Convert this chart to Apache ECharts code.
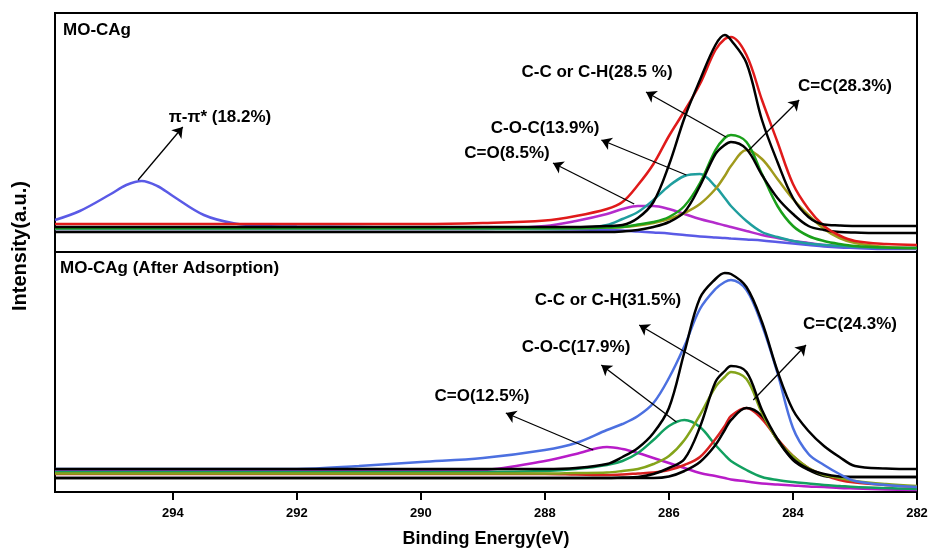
<!DOCTYPE html>
<html>
<head>
<meta charset="utf-8">
<title>C1s XPS MO-CAg</title>
<script src="https://cdn.jsdelivr.net/npm/echarts@6/dist/echarts.min.js"></script>
<style>
  html, body { margin: 0; padding: 0; background: #fff; }
  #main { width: 932px; height: 554px; }
</style>
</head>
<body>
<div id="main"></div>
<script>
// binding energy grid (eV), shared by both panels
var energy = [295.9, 295.5, 295, 294.75, 294.5, 294.25, 294, 293.5, 293, 292.5, 292, 291, 290, 289, 288, 287.5, 287,
  286.75, 286.5, 286.25, 286, 285.75, 285.5, 285.25, 285.1, 285, 284.75, 284.5, 284.25, 284, 283.75, 283.5, 283.25, 283, 282.5, 282];
var xTicks = [294, 292, 290, 288, 286, 284, 282];

// MO-CAg (top panel)
var topPi   = [32, 41, 58, 67, 71, 66, 56, 37, 28.5, 26, 25.5, 25, 24, 23.5, 23, 22.5, 22,
  21.5, 20.5, 19.5, 18.5, 17, 15.5, 14.5, 14, 13.5, 12.5, 11.5, 10, 8.5, 7, 5.5, 4.5, 4, 3, 3];
var topCO   = [23, 23, 23, 23, 23, 23, 23, 23, 23, 23, 23, 23, 23, 23, 26, 31, 38,
  43, 46, 46, 43, 38, 33, 29, 26.5, 25, 21, 17, 14, 11, 9, 7, 6, 5, 4, 4];
var topCOC  = [23, 23, 23, 23, 23, 23, 23, 23, 23, 23, 23, 23, 23, 23, 23, 23.5, 27,
  33, 40, 52, 66, 76, 78, 65.5, 54, 46, 31, 20, 15, 11, 8.5, 7, 6, 5, 4, 4];
var topCC   = [24, 24, 24, 24, 24, 24, 24, 24, 24, 24, 24, 24, 24, 24, 24, 24, 24.5,
  25, 27.5, 30, 35, 46, 69, 102, 114, 117, 110, 78, 46, 26, 16, 11, 8, 6, 4.5, 4];
var topCeqC = [24, 24, 24, 24, 24, 24, 24, 24, 24, 24, 24, 24, 24, 24, 24, 24, 24.5,
  25, 26.5, 29, 33, 39, 48, 63, 76, 86, 102, 93, 73, 53, 37, 23, 14, 9, 5, 4];
var topRaw  = [28, 28, 28, 28, 28, 28, 28, 28, 28, 28, 28, 28, 28, 29, 31.5, 36, 43,
  50, 67, 88, 116, 141, 168, 202, 213, 215, 197, 152, 110, 68, 43, 26, 16.5, 11, 8, 7];
var topFit  = [25, 25, 25, 25, 25, 25, 25, 25, 25, 25, 25, 25, 25, 25, 25, 25, 26,
  27, 34, 50, 87, 134, 172, 207, 217, 212, 189, 132, 90, 54, 35, 27.5, 26.5, 26, 26, 26];
var topBlk  = [20, 20, 20, 20, 20, 20, 20, 20, 20, 20, 20, 20, 20, 20, 20, 20, 20,
  20.5, 22, 25, 30, 40, 66, 98, 107, 110, 103, 77, 54, 38, 26, 22, 20, 19.5, 19, 19];

// MO-CAg after adsorption (bottom panel)
var botCO   = [21, 21, 21, 21, 21, 21, 21, 21, 21, 21, 21, 21, 21, 22, 31, 38, 45,
  43, 39, 34, 29, 24, 19, 16, 14, 12.5, 10.5, 8.5, 7.5, 6.5, 5.5, 5, 4, 3.5, 2.5, 2];
var botCOC  = [20, 20, 20, 20, 20, 20, 20, 20, 20, 20, 20, 20, 20, 20, 21, 23, 27,
  31, 39, 52, 66, 72, 65, 47, 37, 31, 22, 15, 12, 10, 8.5, 7, 6, 5, 4, 3];
var botCC   = [18.5, 18.5, 18.5, 18.5, 18.5, 18.5, 18.5, 18.5, 18.5, 18.5, 18.5, 18.5, 18.5, 18.5, 18.5, 19, 19.5,
  21, 23, 28, 36, 52, 77, 105, 115, 120, 113, 79, 52, 36, 24, 17, 14, 11, 8, 6];
var botCeqC = [18, 18, 18, 18, 18, 18, 18, 18, 18, 18, 18, 18, 18, 18, 18, 17.5, 17,
  17.5, 18.5, 19.5, 22, 27, 35, 53, 66, 76, 84, 73, 53, 36, 24, 17, 12, 9.5, 7, 5];
var botRaw  = [23, 23, 23, 23, 23, 23, 23, 23, 23, 23, 23, 26, 30, 34, 42, 49, 62,
  68, 76, 89, 114, 146, 183, 203, 210, 212, 202, 167, 119, 64, 38, 27, 18, 11, 7, 5];
var botFit  = [23, 23, 23, 23, 23, 23, 23, 23, 23, 23, 23, 23, 23, 23, 23, 24, 28,
  35, 44, 59, 84, 140, 194, 213, 219, 218, 205, 170, 121, 82, 61, 46, 35, 26, 23.5, 23];
var botBlk1 = [14, 14, 14, 14, 14, 14, 14, 14, 14, 14, 14, 14, 14, 14, 14, 14, 14,
  14.5, 15, 18, 24, 33, 65, 110, 121, 126, 120, 82, 53, 33, 23, 18, 15.5, 15, 15, 15];
var botBlk2 = [14, 14, 14, 14, 14, 14, 14, 14, 14, 14, 14, 14, 14, 14, 14, 14, 14,
  14, 14, 14, 15.5, 21, 30, 47, 62, 72, 84, 76, 52, 32, 22, 16, 15, 15, 15, 15];

// annotation arrows [from, to] in (eV, intensity)
var topArrows = [
  [[294.56, 72], [293.84, 125]],
  [[285.08, 115], [286.37, 160]],
  [[284.71, 102], [283.90, 152]],
  [[285.72, 77], [287.09, 112]],
  [[286.56, 48], [287.87, 89]]
];
var botArrows = [
  [[285.19, 120], [286.48, 167]],
  [[284.64, 92], [283.79, 147]],
  [[285.88, 70], [287.09, 127]],
  [[287.22, 42], [288.63, 79]]
];

var font = '"Liberation Sans", Arial, sans-serif';

function pts(vals) {
  return energy.map(function (e, i) { return [e, vals[i]]; });
}

function line(vals, color, panel) {
  return {
    type: 'line',
    xAxisIndex: panel,
    yAxisIndex: panel,
    data: pts(vals),
    smooth: 0.35,
    showSymbol: false,
    silent: true,
    lineStyle: { color: color, width: 2.5 },
    z: 3
  };
}

function arrows(list) {
  return {
    silent: true,
    symbol: ['none', 'arrow'],
    symbolSize: 10,
    label: { show: false },
    lineStyle: { color: '#000', width: 1.3, type: 'solid' },
    data: list.map(function (a) { return [{ coord: a[0] }, { coord: a[1] }]; })
  };
}

function label(text, x, y, align) {
  return {
    type: 'text', x: x, y: y, z: 10,
    style: { text: text, fill: '#000', font: 'bold 17px ' + font, align: align || 'center', verticalAlign: 'middle' }
  };
}

var chart = echarts.init(document.getElementById('main'));

var xBase = { type: 'value', min: 282, max: 295.9, inverse: true, interval: 2, splitLine: { show: false } };

var option = {
  animation: false,
  backgroundColor: '#fff',
  grid: [
    { left: 55, right: 15, top: 13, height: 239, show: true, borderColor: '#000', borderWidth: 2 },
    { left: 55, right: 15, top: 252, height: 240, show: true, borderColor: '#000', borderWidth: 2 }
  ],
  xAxis: [
    Object.assign({}, xBase, {
      gridIndex: 0,
      axisLine: { show: false }, axisTick: { show: false }, axisLabel: { show: false }
    }),
    Object.assign({}, xBase, {
      gridIndex: 1,
      axisLine: { show: true, onZero: false, lineStyle: { color: '#000', width: 2 } },
      axisTick: { show: true, inside: false, length: 8, customValues: xTicks, lineStyle: { color: '#000', width: 2 } },
      axisLabel: { customValues: xTicks, color: '#000', fontWeight: 'bold', fontSize: 13, margin: 15, fontFamily: font },
      name: 'Binding Energy(eV)',
      nameLocation: 'middle',
      nameGap: 38,
      nameTextStyle: { color: '#000', fontWeight: 'bold', fontSize: 18, fontFamily: font }
    })
  ],
  yAxis: [
    { type: 'value', gridIndex: 0, min: 0, max: 239, show: false },
    { type: 'value', gridIndex: 1, min: 0, max: 240, show: false }
  ],
  series: [
    line(topPi, '#5a5ae6', 0),
    line(topCO, '#b42ccc', 0),
    line(topCOC, '#1f9e9e', 0),
    line(topCeqC, '#a09a1c', 0),
    line(topCC, '#1aa01a', 0),
    line(topBlk, '#000', 0),
    line(topRaw, '#e01a1a', 0),
    Object.assign(line(topFit, '#000', 0), { markLine: arrows(topArrows) }),

    line(botCO, '#b81cc8', 1),
    line(botCOC, '#12a060', 1),
    line(botCeqC, '#d82020', 1),
    line(botBlk2, '#000', 1),
    line(botCC, '#84a41a', 1),
    line(botBlk1, '#000', 1),
    line(botRaw, '#4c70e0', 1),
    Object.assign(line(botFit, '#000', 1), { markLine: arrows(botArrows) })
  ],
  graphic: [
    label('MO-CAg', 63, 30, 'left'),
    label('\u03c0-\u03c0* (18.2%)', 220, 117),
    label('C-C or C-H(28.5 %)', 597, 72),
    label('C=C(28.3%)', 845, 86),
    label('C-O-C(13.9%)', 545, 128),
    label('C=O(8.5%)', 507, 153),
    label('MO-CAg (After Adsorption)', 60, 268, 'left'),
    label('C-C or C-H(31.5%)', 608, 300),
    label('C=C(24.3%)', 850, 324),
    label('C-O-C(17.9%)', 576, 347),
    label('C=O(12.5%)', 482, 396),
    {
      type: 'text', x: 20, y: 246, rotation: Math.PI / 2,
      style: { text: 'Intensity(a.u.)', fill: '#000', font: 'bold 20px ' + font, align: 'center', verticalAlign: 'middle' }
    }
  ]
};

chart.setOption(option);
</script>
</body>
</html>
